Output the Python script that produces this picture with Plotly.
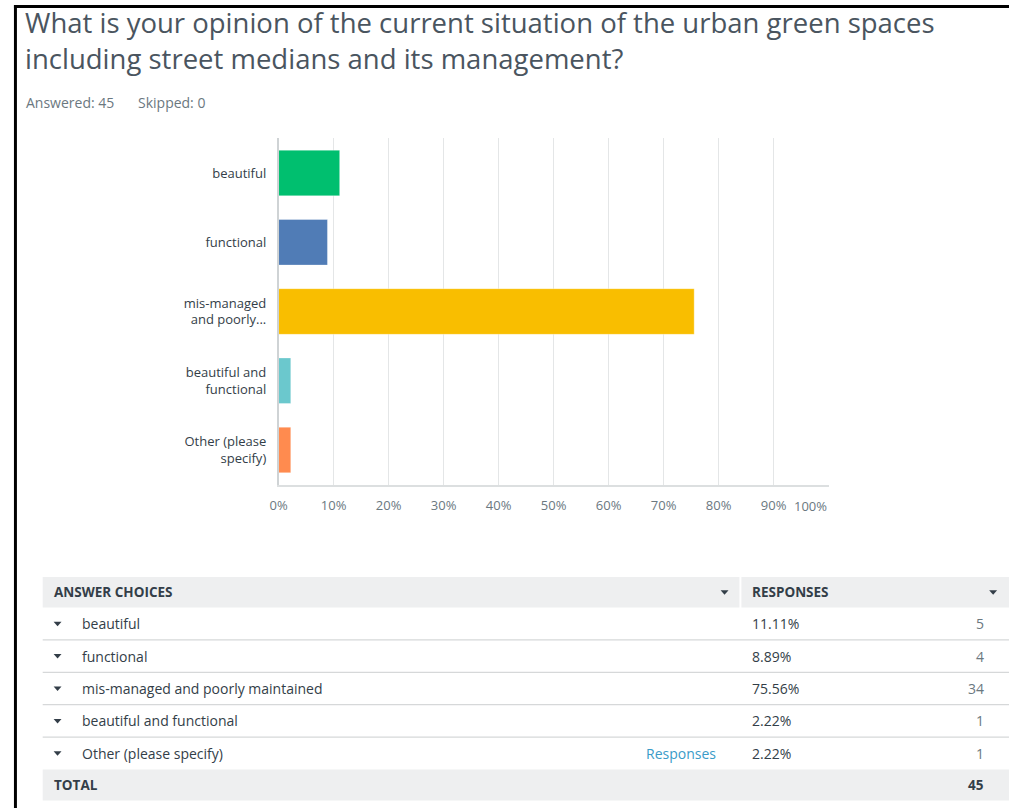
import plotly.graph_objects as go

W, H = 1009, 808

# ---------------- data ----------------
title_text = "What is your opinion of the current situation of the urban green spaces<br>including street medians and its management?"
answered = 45
skipped = 0
categories = ["beautiful", "functional", "mis-managed and poorly maintained",
              "beautiful and functional", "Other (please specify)"]
axis_labels = ["beautiful", "functional", "mis-managed<br>and poorly...",
               "beautiful and<br>functional", "Other (please<br>specify)"]
percents = [11.11, 8.89, 75.56, 2.22, 2.22]
pct_labels = ["11.11%", "8.89%", "75.56%", "2.22%", "2.22%"]
counts = [5, 4, 34, 1, 1]
total = 45
bar_colors = ["#00bf6f", "#507cb6", "#f9be00", "#6bc8cd", "#ff8b4f"]
x_ticks = [0, 10, 20, 30, 40, 50, 60, 70, 80, 90, 100]
x_ticktext = ["0%", "10%", "20%", "30%", "40%", "50%", "60%", "70%", "80%", "90%", ""]

FONT = "Open Sans"
DARK = "#333e48"
MID = "#6b787f"


def px(x):
    return x / W


def py(y):
    return 1 - y / H


fig = go.Figure()
fig.add_trace(go.Bar(
    x=percents, y=categories, orientation="h",
    marker=dict(color=bar_colors, line=dict(width=1, color="rgba(255,255,255,0.35)")),
    width=0.66, hoverinfo="x+y",
))

shapes = []
annotations = []

# border (screenshot frame)
shapes.append(dict(type="rect", xref="paper", yref="paper", x0=px(5), x1=px(8), y0=0, y1=py(5),
                   fillcolor="black", line=dict(width=0), layer="above"))
shapes.append(dict(type="rect", xref="paper", yref="paper", x0=px(5), x1=1, y0=py(8), y1=py(5),
                   fillcolor="black", line=dict(width=0), layer="above"))

# title & subtitle
annotations.append(dict(text=title_text, xref="paper", yref="paper", x=px(14), y=py(2),
                        xanchor="left", yanchor="top", showarrow=False, align="left",
                        font=dict(family=FONT, size=27.5, color="#4a555f")))
annotations.append(dict(text=f"Answered: {answered}", xref="paper", yref="paper", x=px(15), y=py(102),
                        xanchor="left", yanchor="middle", showarrow=False,
                        font=dict(family=FONT, size=14, color=MID)))
annotations.append(dict(text=f"Skipped: {skipped}", xref="paper", yref="paper", x=px(128), y=py(102),
                        xanchor="left", yanchor="middle", showarrow=False,
                        font=dict(family=FONT, size=14, color=MID)))

# 100% tick label (right-aligned to plot edge as in reference)
annotations.append(dict(text="100%", xref="x", yref="paper", x=x_ticks[-1], y=py(506),
                        xanchor="right", yanchor="middle", showarrow=False,
                        font=dict(family=FONT, size=13, color=MID)))

# ---------------- table ----------------
T_LEFT, T_RIGHT = 34, 1009
HEAD_TOP, HEAD_BOT = 577, 607.5
ROW_H = 32.4
COL2 = 738
TFS = 14


def tri(cx, cy, color=DARK):
    return dict(type="path", xref="paper", yref="paper",
                path=f"M {px(cx-4)},{py(cy-2)} L {px(cx+4)},{py(cy-2)} L {px(cx)},{py(cy+2.5)} Z",
                fillcolor=color, line=dict(width=0))


shapes.append(dict(type="rect", xref="paper", yref="paper", x0=px(T_LEFT), x1=px(COL2 - 1),
                   y0=py(HEAD_BOT), y1=py(HEAD_TOP), fillcolor="#eeeff0", line=dict(width=0)))
shapes.append(dict(type="rect", xref="paper", yref="paper", x0=px(COL2 + 1), x1=px(T_RIGHT),
                   y0=py(HEAD_BOT), y1=py(HEAD_TOP), fillcolor="#eeeff0", line=dict(width=0)))
hc = (HEAD_TOP + HEAD_BOT) / 2
annotations.append(dict(text="<b>ANSWER CHOICES</b>", xref="paper", yref="paper", x=px(43), y=py(hc),
                        xanchor="left", yanchor="middle", showarrow=False,
                        font=dict(family=FONT, size=13.5, color=DARK)))
annotations.append(dict(text="<b>RESPONSES</b>", xref="paper", yref="paper", x=px(748), y=py(hc),
                        xanchor="left", yanchor="middle", showarrow=False,
                        font=dict(family=FONT, size=13.5, color=DARK)))
shapes.append(tri(722, hc))
shapes.append(tri(993, hc))

for i, (ch, pl, ct) in enumerate(zip(categories, pct_labels, counts)):
    top = HEAD_BOT + i * ROW_H
    cy = top + ROW_H / 2
    shapes.append(tri(49, cy))
    annotations.append(dict(text=ch, xref="paper", yref="paper", x=px(72), y=py(cy),
                            xanchor="left", yanchor="middle", showarrow=False,
                            font=dict(family=FONT, size=TFS, color=DARK)))
    annotations.append(dict(text=pl, xref="paper", yref="paper", x=px(748), y=py(cy),
                            xanchor="left", yanchor="middle", showarrow=False,
                            font=dict(family=FONT, size=TFS, color=DARK)))
    annotations.append(dict(text=str(ct), xref="paper", yref="paper", x=px(986), y=py(cy),
                            xanchor="right", yanchor="middle", showarrow=False,
                            font=dict(family=FONT, size=TFS, color=MID)))
    if ch.startswith("Other"):
        annotations.append(dict(text="Responses", xref="paper", yref="paper", x=px(715), y=py(cy),
                                xanchor="right", yanchor="middle", showarrow=False,
                                font=dict(family=FONT, size=TFS, color="#3a9bc8")))
    if i < len(categories) - 1:
        yb = top + ROW_H
        shapes.append(dict(type="line", xref="paper", yref="paper", x0=px(T_LEFT), x1=px(T_RIGHT),
                           y0=py(yb), y1=py(yb), line=dict(color="#d6d8d9", width=1.2)))

tot_top = HEAD_BOT + len(categories) * ROW_H
tot_bot = tot_top + 31
shapes.append(dict(type="rect", xref="paper", yref="paper", x0=px(T_LEFT), x1=px(T_RIGHT),
                   y0=py(tot_bot), y1=py(tot_top), fillcolor="#eeeff0", line=dict(width=0)))
tc = (tot_top + tot_bot) / 2
annotations.append(dict(text="<b>TOTAL</b>", xref="paper", yref="paper", x=px(43), y=py(tc),
                        xanchor="left", yanchor="middle", showarrow=False,
                        font=dict(family=FONT, size=13.5, color=DARK)))
annotations.append(dict(text=f"<b>{total}</b>", xref="paper", yref="paper", x=px(986), y=py(tc),
                        xanchor="right", yanchor="middle", showarrow=False,
                        font=dict(family=FONT, size=13.5, color=DARK)))

fig.update_layout(
    width=W, height=H, margin=dict(l=0, r=0, t=0, b=0),
    paper_bgcolor="white", plot_bgcolor="white",
    showlegend=False, bargap=0.34,
    font=dict(family=FONT),
    xaxis=dict(domain=[px(272), px(827)], range=[0, 100], tickvals=x_ticks, ticktext=x_ticktext,
               showgrid=True, gridcolor="#e4e6e7", gridwidth=1, zeroline=False,
               showline=True, linecolor="#dcdfe0", linewidth=1.5,
               ticks="outside", ticklen=8, tickcolor="rgba(0,0,0,0)",
               tickfont=dict(family=FONT, size=13, color=MID), fixedrange=True),
    yaxis=dict(domain=[py(484.6), py(138.4)], categoryorder="array", categoryarray=categories,
               autorange="reversed", tickvals=categories, ticktext=axis_labels,
               showgrid=False, zeroline=False, showline=True, linecolor="#cfd3d5", linewidth=1.5,
               ticks="outside", ticklen=8, tickcolor="rgba(0,0,0,0)",
               tickfont=dict(family=FONT, size=13, color=DARK), fixedrange=True),
    shapes=shapes, annotations=annotations,
)

fig.write_html("out.html")
